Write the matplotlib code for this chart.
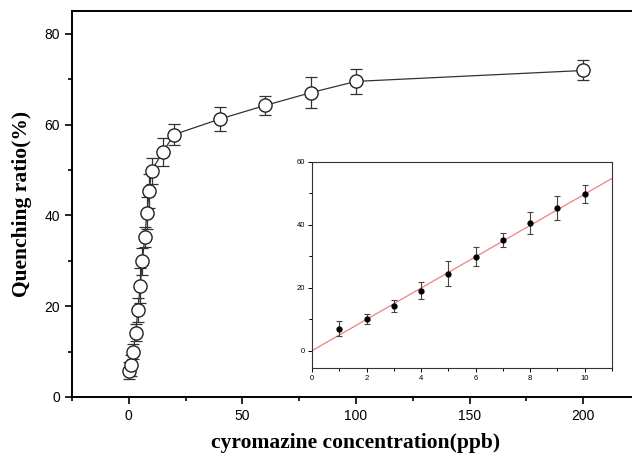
import numpy as np
import matplotlib.pyplot as plt
from matplotlib.ticker import MultipleLocator

# main curve: cyromazine concentration (ppb) vs quenching ratio (%)
conc = [0, 1, 2, 3, 4, 5, 6, 7, 8, 9, 10, 15, 20, 40, 60, 80, 100, 200]
quench = [5.8, 7.0, 10.0, 14.2, 19.1, 24.5, 29.9, 35.2, 40.5, 45.4, 49.8,
          54.0, 57.8, 61.2, 64.2, 67.0, 69.5, 71.9]
quench_err = [1.9, 2.3, 1.6, 1.9, 2.6, 3.9, 3.0, 2.2, 3.5, 3.7, 2.8,
              3.1, 2.4, 2.6, 2.1, 3.4, 2.8, 2.2]

# inset: linear range
lin_conc = [1, 2, 3, 4, 5, 6, 7, 8, 9, 10]
lin_quench = [7.0, 10.1, 14.2, 19.1, 24.5, 29.9, 35.3, 40.5, 45.4, 49.8]
lin_err = [2.3, 1.6, 1.9, 2.6, 3.9, 3.0, 2.2, 3.5, 3.7, 2.8]
fit_slope = 4.98
fit_intercept = 0.0

fig = plt.figure(figsize=(6.32, 4.58), dpi=100)
ax = fig.add_axes([72/632, 1-397/458, 568/632, 386/458])

ax.plot(conc, quench, color='#333333', lw=0.9, zorder=1)
ax.errorbar(conc, quench, yerr=quench_err, fmt='none', ecolor='#333333',
            elinewidth=0.9, capsize=4, capthick=0.9, zorder=2)
ax.plot(conc, quench, 'o', ms=9.5, mfc='white', mec='#222222', mew=1.0, zorder=3)

ax.set_xlim(-25, 225)
ax.set_ylim(0, 85)
ax.set_xticks([0, 50, 100, 150, 200])
ax.set_yticks([0, 20, 40, 60, 80])
ax.xaxis.set_minor_locator(MultipleLocator(25))
ax.yaxis.set_minor_locator(MultipleLocator(10))
ax.tick_params(which='both', direction='out', width=1.2, labelsize=10)
ax.tick_params(which='major', length=5)
ax.tick_params(which='minor', length=3)
ax.tick_params(top=False, right=False)
for lab in ax.get_xticklabels() + ax.get_yticklabels():
    lab.set_fontfamily('Liberation Sans')
for s in ax.spines.values():
    s.set_linewidth(1.4)

ax.set_xlabel('cyromazine concentration(ppb)', fontfamily='Liberation Serif',
              fontweight='bold', fontsize=15.5, labelpad=7)
ax.set_ylabel('Quenching ratio(%)', fontfamily='Liberation Serif',
              fontweight='bold', fontsize=15.5, labelpad=9)

# inset
ins = fig.add_axes([312/632, 1-368/458, 300/632, 206/458])
xfit = np.array([0, 11])
ins.plot(xfit, fit_slope*xfit + fit_intercept, color='#f08080', lw=0.9, zorder=1)
ins.errorbar(lin_conc, lin_quench, yerr=lin_err, fmt='o', ms=3.5, color='black',
             ecolor='#444444', elinewidth=0.8, capsize=2.5, capthick=0.8, zorder=2)
ins.set_xlim(0, 11)
ins.set_ylim(-5.5, 60)
ins.set_xticks([0, 2, 4, 6, 8, 10])
ins.set_yticks([0, 20, 40, 60])
ins.xaxis.set_minor_locator(MultipleLocator(1))
ins.yaxis.set_minor_locator(MultipleLocator(10))
ins.tick_params(which='both', direction='out', width=0.7, labelsize=5.5, pad=2)
ins.tick_params(which='major', length=3)
ins.tick_params(which='minor', length=2)
for lab in ins.get_xticklabels() + ins.get_yticklabels():
    lab.set_fontfamily('Liberation Sans')
for s in ins.spines.values():
    s.set_linewidth(0.8)
    s.set_color('#333333')

fig.savefig('out.png', dpi=100)
